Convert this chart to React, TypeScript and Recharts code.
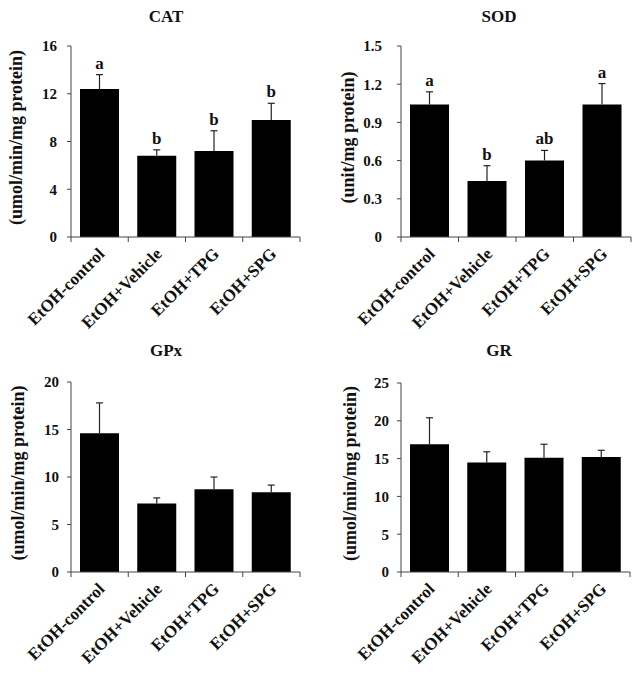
import { BarChart, Bar, XAxis, YAxis, LabelList, Label } from 'recharts';

const groups = ['EtOH-control', 'EtOH+Vehicle', 'EtOH+TPG', 'EtOH+SPG'];

const catMean = [12.4, 6.8, 7.2, 9.8];
const catErr = [1.2, 0.5, 1.7, 1.4];
const catSig = ['a', 'b', 'b', 'b'];
const catTicks = [0, 4, 8, 12, 16];

const sodMean = [1.04, 0.44, 0.6, 1.04];
const sodErr = [0.1, 0.12, 0.08, 0.165];
const sodSig = ['a', 'b', 'ab', 'a'];
const sodTicks = [0, 0.3, 0.6, 0.9, 1.2, 1.5];

const gpxMean = [14.6, 7.2, 8.7, 8.4];
const gpxErr = [3.2, 0.6, 1.3, 0.75];
const gpxTicks = [0, 5, 10, 15, 20];

const grMean = [16.9, 14.5, 15.1, 15.2];
const grErr = [3.5, 1.4, 1.8, 0.9];
const grTicks = [0, 5, 10, 15, 20, 25];

const SERIF = "'Liberation Serif', 'Times New Roman', serif";
const AXIS = '#444';

type PanelProps = {
  left: number;
  top: number;
  height: number;
  title: string;
  titleX: number;
  titleY: number;
  unit: string;
  mean: number[];
  err: number[];
  sig?: string[];
  ticks: number[];
  marginTop: number;
  marginRight: number;
  axisW: number;
  xAxisH: number;
  tickGap: number;
  labelX: number;
};

function Panel(p: PanelProps) {
  const width = 322;
  const data = groups.map((g, i) => ({
    name: g,
    mean: p.mean[i],
    sig: p.sig ? p.sig[i] : '',
  }));
  const band = (width - p.marginRight - p.axisW) / groups.length;

  const XTick = (props: any) => {
    const { x, y, payload, index } = props;
    return (
      <g>
        <line x1={x + band / 2} x2={x + band / 2} y1={y} y2={y + 5} stroke={AXIS} />
        {index === 0 && <line x1={x - band / 2} x2={x - band / 2} y1={y} y2={y + 5} stroke={AXIS} />}
        <text
          transform={`translate(${x + 6}, ${y + 18}) rotate(-45)`}
          textAnchor="end"
          fontFamily={SERIF}
          fontWeight="bold"
          fontSize={17}
          fill="#111"
        >
          {payload.value}
        </text>
      </g>
    );
  };

  // upper half of the SEM bar plus the significance letter, scaled off the bar itself
  const ErrAndSig = (props: any) => {
    const { x, y, width: w, height: h, value, index } = props;
    const m = p.mean[index];
    const errTop = y - (p.err[index] * h) / m;
    const cx = x + w / 2;
    return (
      <g>
        <line x1={cx} x2={cx} y1={y} y2={errTop} stroke="#222" strokeWidth={1.2} />
        <line x1={cx - 3.5} x2={cx + 3.5} y1={errTop} y2={errTop} stroke="#222" strokeWidth={1.2} />
        {value ? (
          <text x={cx} y={errTop - 6} textAnchor="middle" fontFamily={SERIF} fontWeight="bold" fontSize={17} fill="#111">
            {value}
          </text>
        ) : null}
      </g>
    );
  };

  const YLabel = (props: any) => {
    const vb = props.viewBox;
    const cx = vb.x + p.labelX;
    const cy = vb.y + vb.height / 2 - 4;
    return (
      <text
        transform={`translate(${cx}, ${cy}) rotate(-90)`}
        textAnchor="middle"
        dominantBaseline="central"
        fontFamily={SERIF}
        fontWeight="bold"
        fontSize={18}
        fill="#111"
      >
        {p.unit}
      </text>
    );
  };

  return (
    <div style={{ position: 'absolute', left: p.left, top: p.top, width, height: p.height }}>
      <div
        style={{
          position: 'absolute',
          left: p.titleX - 60,
          width: 120,
          top: p.titleY - 16,
          textAlign: 'center',
          fontFamily: SERIF,
          fontWeight: 'bold',
          fontSize: 17,
          lineHeight: '20px',
          color: '#111',
        }}
      >
        {p.title}
      </div>
      <BarChart
        width={width}
        height={p.height}
        data={data}
        margin={{ top: p.marginTop, right: p.marginRight, left: 0, bottom: 0 }}
      >
        <XAxis
          dataKey="name"
          height={p.xAxisH}
          interval={0}
          stroke={AXIS}
          tickLine={false}
          tickSize={0}
          tickMargin={0}
          tick={<XTick />}
        />
        <YAxis
          width={p.axisW}
          domain={[0, p.ticks[p.ticks.length - 1]]}
          ticks={p.ticks}
          interval={0}
          stroke={AXIS}
          tickSize={4}
          tickMargin={p.tickGap}
          tick={{ fill: '#111', fontSize: 15, fontFamily: SERIF, fontWeight: 'bold' }}
        >
          <Label content={<YLabel />} />
        </YAxis>
        <Bar dataKey="mean" fill="#000" barSize={39} isAnimationActive={false}>
          <LabelList dataKey="sig" content={<ErrAndSig />} />
        </Bar>
      </BarChart>
    </div>
  );
}

export default function App() {
  return (
    <div style={{ position: 'absolute', left: 0, top: 0, width: 644, height: 677, background: '#fff' }}>
      <Panel
        left={0} top={0} height={340} title="CAT" titleX={166} titleY={23}
        unit="(umol/min/mg protein)" mean={catMean} err={catErr} sig={catSig} ticks={catTicks}
        marginTop={46} marginRight={22} axisW={71} xAxisH={103} tickGap={10} labelX={16}
      />
      <Panel
        left={322} top={0} height={340} title="SOD" titleX={177} titleY={23}
        unit="(unit/mg protein)" mean={sodMean} err={sodErr} sig={sodSig} ticks={sodTicks}
        marginTop={46} marginRight={13} axisW={79} xAxisH={103} tickGap={15} labelX={26}
      />
      <Panel
        left={0} top={340} height={337} title="GPx" titleX={166} titleY={17}
        unit="(umol/min/mg protein)" mean={gpxMean} err={gpxErr} ticks={gpxTicks}
        marginTop={42} marginRight={22} axisW={71} xAxisH={105} tickGap={8} labelX={18}
      />
      <Panel
        left={322} top={340} height={337} title="GR" titleX={177} titleY={17}
        unit="(umol/min/mg protein)" mean={grMean} err={grErr} ticks={grTicks}
        marginTop={43} marginRight={14} axisW={79} xAxisH={105} tickGap={8} labelX={28}
      />
    </div>
  );
}
